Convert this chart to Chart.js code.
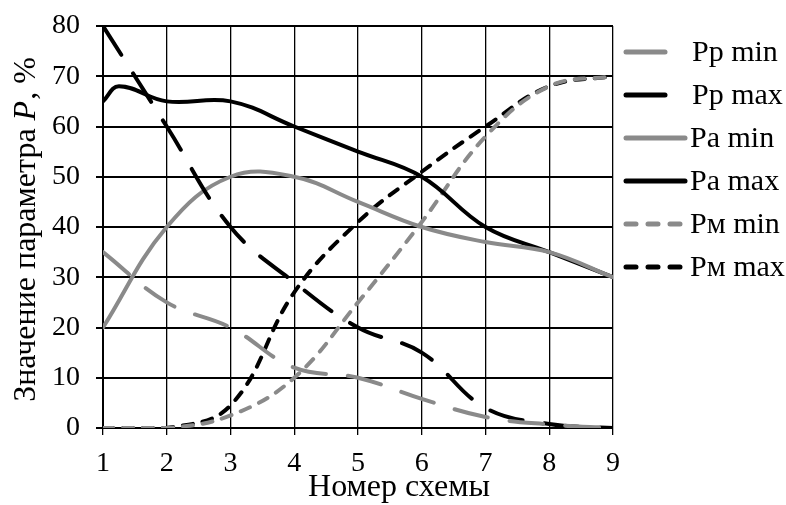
<!DOCTYPE html>
<html lang="ru">
<head>
  <meta charset="UTF-8" />
  <title>Значение параметра P</title>
  <script src="https://cdn.jsdelivr.net/npm/chart.js"></script>
  <style>
    html, body { margin: 0; padding: 0; background: #fff; }
    #wrap { width: 786px; height: 505px; }
  </style>
</head>
<body>
  <div id="wrap"><canvas id="chart" width="786" height="505"></canvas></div>

  <script>
    // номера схем
    const schemes = [1, 2, 3, 4, 5, 6, 7, 8, 9];
    const yTicks = [0, 10, 20, 30, 40, 50, 60, 70, 80];

    const ppMin = [35, 25, 20, 12, 10, 5.8, 2.2, 0.7, 0];
    const ppMax = [80, 60, 40, 29, 20, 15, 4, 0.8, 0];
    const paMin = [20, 40, 50, 50, 45, 40, 37, 35, 30];
    // Pa max имеет горб около 1.25
    const paMaxX = [1, 1.25, 2, 3, 4, 5, 6, 7, 8, 9];
    const paMax = [65, 68, 65, 65, 60, 55, 50, 40, 35, 30];
    const pmMin = [0, 0, 2.5, 10, 25, 41, 58, 68, 70];
    const pmMax = [0, 0, 4.5, 27, 41, 51, 60, 68, 70];

    const GRAY = '#8a8a8a';
    const SERIF = '"Liberation Serif", "Times New Roman", serif';

    function pts(xs, ys) {
      return ys.map((v, i) => ({ x: xs[i], y: v }));
    }

    const series = [
      { label: 'Рр min', xs: schemes, ys: ppMin, color: GRAY, dash: [34, 22], legDash: [], legLen: 45, textX: 692 },
      { label: 'Рр max', xs: schemes, ys: ppMax, color: '#000', dash: [34, 22], legDash: [], legLen: 45, textX: 692 },
      { label: 'Ра min', xs: schemes, ys: paMin, color: GRAY, dash: [], legDash: [], legLen: 65, textX: 690 },
      { label: 'Ра max', xs: paMaxX, ys: paMax, color: '#000', dash: [], legDash: [], legLen: 65, textX: 690 },
      { label: 'Рм min', xs: schemes, ys: pmMin, color: GRAY, dash: [10, 10], legDash: [10, 12], legLen: 65, textX: 690 },
      { label: 'Рм max', xs: schemes, ys: pmMax, color: '#000', dash: [10, 10], legDash: [10, 12], legLen: 65, textX: 690 }
    ];

    const datasets = series.map(s => ({
      label: s.label,
      data: pts(s.xs, s.ys),
      borderColor: s.color,
      borderWidth: 4,
      borderDash: s.dash,
      borderCapStyle: 'round',
      pointRadius: 0,
      tension: 0.4,
      fill: false
    }));

    const extras = {
      id: 'extras',
      afterDraw(chart) {
        const ctx = chart.ctx;
        ctx.save();
        // легенда
        ctx.font = '30px ' + SERIF;
        ctx.textBaseline = 'middle';
        ctx.fillStyle = '#000';
        series.forEach((s, i) => {
          const y = 52 + i * 43;
          ctx.beginPath();
          ctx.strokeStyle = s.color;
          ctx.lineWidth = 5;
          ctx.lineCap = 'round';
          ctx.setLineDash(s.legDash);
          ctx.moveTo(626, y);
          ctx.lineTo(623 + s.legLen - 3, y);
          ctx.stroke();
          ctx.setLineDash([]);
          ctx.fillText(s.label, s.textX, y + 1);
        });

        // подпись оси Y
        ctx.translate(27, 230);
        ctx.rotate(-Math.PI / 2);
        const a = 'Значение параметра ';
        const b = 'P';
        const c = ', %';
        const fN = '32px ' + SERIF;
        const fI = 'italic 32px ' + SERIF;
        ctx.font = fN; const wa = ctx.measureText(a).width; const wc = ctx.measureText(c).width;
        ctx.font = fI; const wb = ctx.measureText(b).width;
        let x = -(wa + wb + wc) / 2;
        ctx.textAlign = 'left';
        ctx.font = fN; ctx.fillText(a, x, 0); x += wa;
        ctx.font = fI; ctx.fillText(b, x, 0); x += wb + 1;
        ctx.font = fN; ctx.fillText(c, x, 0);
        ctx.restore();

        // подпись оси X
        ctx.save();
        ctx.font = '32px ' + SERIF;
        ctx.textAlign = 'center';
        ctx.textBaseline = 'middle';
        ctx.fillStyle = '#000';
        ctx.fillText('Номер схемы', 399, 488);
        ctx.restore();
      }
    };

    new Chart(document.getElementById('chart'), {
      type: 'line',
      data: { datasets },
      options: {
        responsive: false,
        animation: false,
        layout: { padding: { left: 0, right: 173, top: 26, bottom: 0 } },
        plugins: { legend: { display: false }, tooltip: { enabled: false } },
        scales: {
          x: {
            type: 'linear',
            min: 1, max: 9,
            afterFit(scale) {
              scale.height = 77;
              scale.paddingLeft = 0;
              scale.paddingRight = 0;
            },
            afterBuildTicks(scale) { scale.ticks = schemes.map(v => ({ value: v })); },
            border: { color: '#000', width: 2 },
            grid: { color: '#000', lineWidth: 1.3, tickLength: 7, tickColor: '#000' },
            ticks: { color: '#000', font: { family: SERIF, size: 28 }, padding: 12, maxRotation: 0 }
          },
          y: {
            min: 0, max: 80,
            afterFit(scale) {
              scale.width = 103;
              scale.paddingTop = 0;
              scale.paddingBottom = 0;
            },
            afterBuildTicks(scale) { scale.ticks = yTicks.map(v => ({ value: v })); },
            border: { color: '#000', width: 2 },
            grid: { color: '#000', lineWidth: 2, tickLength: 7, tickColor: '#000' },
            ticks: { color: '#000', font: { family: SERIF, size: 28 }, padding: 16 }
          }
        }
      },
      plugins: [extras]
    });
  </script>
</body>
</html>
